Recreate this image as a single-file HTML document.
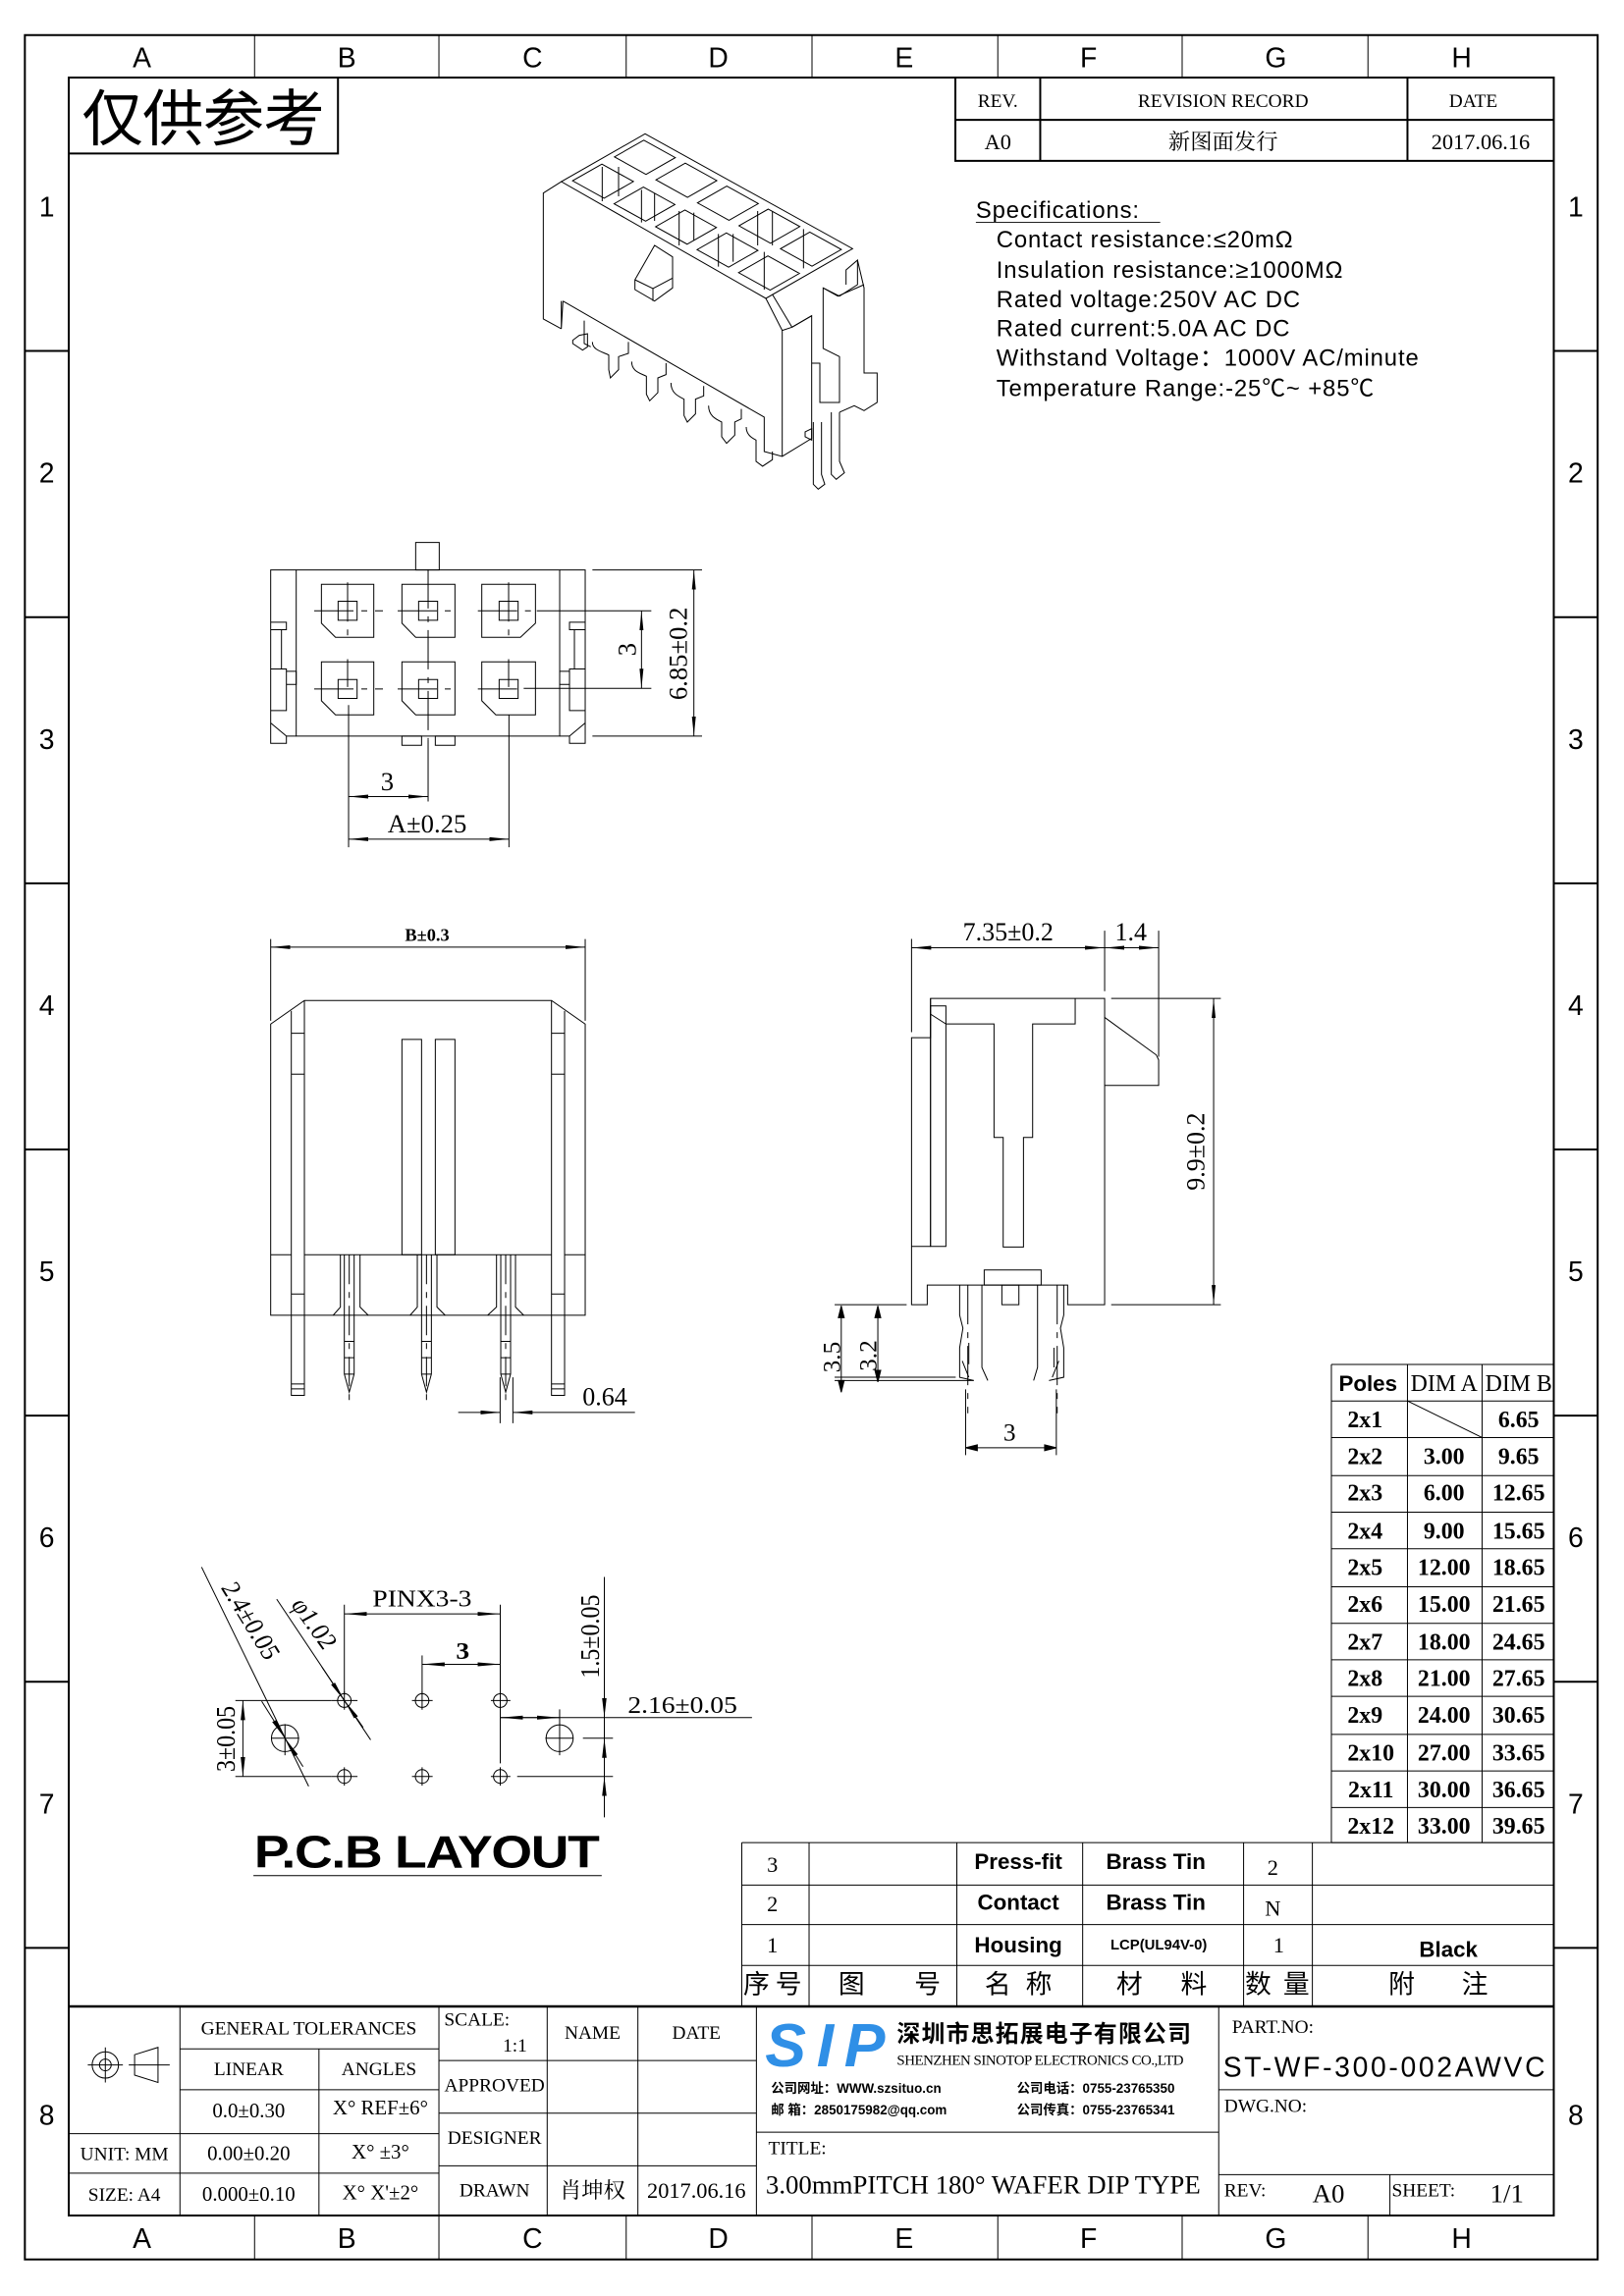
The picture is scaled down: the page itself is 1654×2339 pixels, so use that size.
<!DOCTYPE html>
<html><head><meta charset="utf-8">
<style>
html,body{margin:0;padding:0;background:#fff}
svg{display:block}
svg *{vector-effect:non-scaling-stroke}
.l{stroke:#000;stroke-width:1;fill:none}
.t{font-family:"Liberation Sans Narrow","Liberation Sans","Noto Sans CJK SC",sans-serif;fill:#000}
.s{font-family:"Liberation Serif","Noto Serif CJK SC",serif;fill:#000}
.c{font-family:"Liberation Sans","Noto Sans CJK SC",sans-serif;fill:#000}
</style></head><body>
<svg width="1654" height="2339" viewBox="0 0 1110 1570" preserveAspectRatio="none" xmlns="http://www.w3.org/2000/svg">
<defs>
<marker id="a" markerUnits="userSpaceOnUse" markerWidth="60" markerHeight="20" refX="60" refY="10" orient="auto-start-reverse" viewBox="0 0 60 20"><path d="M0,4 L60,10 L0,16z" fill="#000"/></marker>
</defs>
<rect width="1110" height="1570" fill="#fff"/>
<rect x="17" y="24" width="1075" height="1521" fill="none" stroke="#000" stroke-width="2"/>
<rect x="47" y="53" width="1015" height="1462" fill="none" stroke="#000" stroke-width="2"/>
<g class="l">
<path d="M174,24V53M300,24V53M428,24V53M555,24V53M682,24V53M808,24V53M935,24V53"/>
<path d="M174,1515V1545M300,1515V1545M428,1515V1545M555,1515V1545M682,1515V1545M808,1515V1545M935,1515V1545"/>
<path d="M17,240H47M17,422H47M17,604H47M17,786H47M17,968H47M17,1150H47M17,1332H47" stroke-width="2"/>
<path d="M1062,240H1092M1062,422H1092M1062,604H1092M1062,786H1092M1062,968H1092M1062,1150H1092M1062,1332H1092" stroke-width="2"/>
</g>
<g class="t" font-size="19" text-anchor="middle">
<text x="97" y="46">A</text><text x="237" y="46">B</text><text x="364" y="46">C</text><text x="491" y="46">D</text><text x="618" y="46">E</text><text x="744" y="46">F</text><text x="872" y="46">G</text><text x="999" y="46">H</text>
<text x="97" y="1537">A</text><text x="237" y="1537">B</text><text x="364" y="1537">C</text><text x="491" y="1537">D</text><text x="618" y="1537">E</text><text x="744" y="1537">F</text><text x="872" y="1537">G</text><text x="999" y="1537">H</text>
<text x="32" y="148">1</text><text x="32" y="330">2</text><text x="32" y="512">3</text><text x="32" y="694">4</text><text x="32" y="876">5</text><text x="32" y="1058">6</text><text x="32" y="1240">7</text><text x="32" y="1453">8</text>
<text x="1077" y="148">1</text><text x="1077" y="330">2</text><text x="1077" y="512">3</text><text x="1077" y="694">4</text><text x="1077" y="876">5</text><text x="1077" y="1058">6</text><text x="1077" y="1240">7</text><text x="1077" y="1453">8</text>
</g>
<path d="M47,105H231V53" stroke="#000" stroke-width="2" fill="none"/>
<text x="56" y="96" font-size="42" class="c" textLength="166">仅供参考</text>
<g>
<path d="M653,53V110H1062M653,82H1062M711,53V110M962,53V110" stroke="#000" stroke-width="2" fill="none"/>
<g class="s" font-size="13" text-anchor="middle">
<text x="682" y="73">REV.</text><text x="836" y="73">REVISION RECORD</text><text x="1007" y="73">DATE</text>
<text x="682" y="102" font-size="15">A0</text><text x="836" y="102" font-size="15">新图面发行</text><text x="1012" y="102" font-size="15">2017.06.16</text>
</g></g>
<g class="c" font-size="16" fill="#222" letter-spacing="0.6">
<text x="667" y="149">Specifications:</text>
<path d="M667,152H793" stroke="#222" stroke-width="1"/>
<text x="681" y="169">Contact  resistance:≤20mΩ</text>
<text x="681" y="190">Insulation  resistance:≥1000MΩ</text>
<text x="681" y="210">Rated  voltage:250V  AC  DC</text>
<text x="681" y="230">Rated  current:5.0A  AC  DC</text>
<text x="681" y="250">Withstand  Voltage：1000V  AC/minute</text>
<text x="681" y="271">Temperature  Range:-25℃~  +85℃</text>
</g>
<!-- iso view -->
<g transform="translate(362.4,100.7) scale(0.2237)" class="l">
<path d="M351,-41L985,310L720,462L95,105Z"/>
<path d="M95,105L40,140V525L95,555"/>
<g transform="matrix(126.8,70.2,-128,73,351,-41)">
<path d="M0.12,0.15h0.76v0.7h-0.76z M1.12,0.15h0.76v0.7h-0.76z M2.12,0.15h0.76v0.7h-0.76z M3.12,0.15h0.76v0.7h-0.76z M4.12,0.15h0.76v0.7h-0.76z M0.12,1.15h0.76v0.7h-0.76z M1.12,1.15h0.76v0.7h-0.76z M2.12,1.15h0.76v0.7h-0.76z M3.12,1.15h0.76v0.7h-0.76z M4.12,1.15h0.76v0.7h-0.76z"/>
</g>
<path d="M220,60V165M270,60V150M340,130V230M380,140V225M455,195V300M500,200V285M575,265V365M620,265V350M695,195V300M740,195V300M835,250V370M715,320V435"/>
<path d="M100,470L715,825V930L770,945L860,890V515L800,550L770,560V945"/>
<path d="M720,462L770,560M740,450L800,550M800,550L860,515"/>
<path d="M95,470V555L100,470"/>
<path d="M320,405L380,300L435,335V430L380,470L320,435Z M320,405L375,432L435,400M375,432V470"/>
<path d="M860,660H885V780L945,780V640L895,615V430L945,455L1000,420V345L965,375V420"/>
<path d="M1000,345L1020,430V690L1060,690V780L1020,805L990,790L945,810M895,430L940,455L1020,420"/>
<path d="M165,530V600L185,610M190,595C190,620 220,625 240,635V680L245,705L270,680V640L300,630V595M310,655C310,685 335,690 355,700V755L365,775L390,750V705L415,695V660M430,720C430,750 450,760 470,770V820L480,840L505,815V770L530,760V730M545,790C545,820 565,830 585,840V885L600,905L625,880V840L645,830V800M660,855C660,880 680,890 690,895V960L710,975L740,955V930"/>
<path d="M130,590L150,575L175,570V610L160,620L130,600Z"/>
<path d="M865,840V1030L880,1045L900,1030L890,1000V840M920,810V1000L935,1015L960,995L945,960V810M840,870L860,860V895L840,885Z"/>
</g>
<!-- top view -->
<g transform="translate(174.5,362.4) scale(0.2237)">
<g class="l">
<rect x="490" y="38" width="72" height="84"/>
<rect x="125" y="122" width="805" height="508"/>
<path d="M125,122H47V652H95V630H125M47,282H95V305H47M80,305V425M47,425H95V552H47M47,590L95,630M95,432H125V472H95Z"/>
<path d="M930,122H1008V652H960V630H930M1008,282H960V305H1008M975,305V425M1008,425H960V552H1008M1008,590L960,630M960,432H930V472H960Z"/>
<rect x="448" y="630" width="60" height="28"/><rect x="550" y="630" width="60" height="28"/>
<path d="M202,166H362V328H245L202,285Z M448,166H610V328H490L448,285Z M692,166H856V285L810,328H692Z"/>
<path d="M202,403H362V565H245L202,522Z M448,403H610V565H490L448,522Z M692,403H856V565H735L692,522Z"/>
<rect x="253" y="218" width="58" height="58"/><rect x="499" y="218" width="58" height="58"/><rect x="745" y="218" width="58" height="58"/>
<rect x="253" y="457" width="58" height="58"/><rect x="499" y="457" width="58" height="58"/><rect x="745" y="457" width="58" height="58"/>
</g>
<g class="l" stroke-dasharray="40,8,6,8">
<path d="M180,247H390M435,247H615M680,247H860M180,486H390M435,486H615M680,486H820M282,160V335M528,120V640M774,160V335M282,395V480M774,395V480"/>
</g>
<g class="l">
<path d="M860,247H1210M820,484H1210"/>
<path d="M1180,247V484" marker-start="url(#a)" marker-end="url(#a)"/>
<path d="M1030,122H1365M1030,630H1365"/>
<path d="M1340,122V630" marker-start="url(#a)" marker-end="url(#a)"/>
<path d="M285,535V970M528,640V830M775,565V970"/>
<path d="M285,815H528" marker-start="url(#a)" marker-end="url(#a)"/>
<path d="M285,945H775" marker-start="url(#a)" marker-end="url(#a)"/>
</g>
<g class="s" font-size="80" text-anchor="middle">
<text x="403" y="795">3</text>
<text x="525" y="925">A±0.25</text>
<text transform="translate(1162,365) rotate(-90)">3</text>
<text transform="translate(1318,378) rotate(-90)">6.85±0.2</text>
</g>
</g>
<!-- front view -->
<g transform="translate(174.5,624.2) scale(0.2237)">
<g class="l">
<path d="M47,80V330M1008,80V330"/>
<path d="M47,105H1008" marker-start="url(#a)" marker-end="url(#a)"/>
<path d="M47,340L150,268H905L1008,340V1230H47Z"/>
<path d="M110,300V1475H150V268M905,268V1475H945V300"/>
<path d="M110,368H150M110,493H150M110,1165H150M110,1440H150M110,1455H150M905,368H945M905,493H945M905,1165H945M905,1440H945M905,1455H945"/>
<path d="M47,1045H110M150,1045H905M945,1045H1008"/>
<rect x="448" y="387" width="60" height="658"/><rect x="550" y="387" width="60" height="658"/>
<path d="M260,1045V1205L238,1230M320,1045V1205L345,1230M272,1045V1410L287,1465L302,1410V1045M272,1310H302M272,1360H302M272,1410H302"/>
<path d="M495,1045V1205L473,1230M555,1045V1205L580,1230M508,1045V1410L523,1465L538,1410V1045M508,1310H538M508,1360H538M508,1410H538"/>
<path d="M737,1045V1205L710,1230M795,1045V1205L820,1230M750,1045V1410L765,1465L780,1410V1045M750,1310H780M750,1360H780M750,1410H780"/>
<path d="M748,1420V1560M787,1420V1560"/>
<path d="M620,1527H748" marker-end="url(#a)"/><path d="M1160,1527H787" marker-end="url(#a)"/>
</g>
<g class="l" stroke-dasharray="30,8,6,8"><path d="M287,1045V1505M523,1045V1505M765,1045V1505"/></g>
<g class="s" text-anchor="middle"><text x="525" y="85" font-size="55" font-weight="bold">B±0.3</text><text x="1068" y="1505" font-size="78">0.64</text></g>
</g>
<!-- side view -->
<g transform="translate(590.6,617.4) scale(0.2237)">
<g class="l">
<path d="M203,292H735V1228H622V1168H193V1228H145V412H203Z"/>
<path d="M145,1050H203M203,292V1050"/>
<rect x="203" y="315" width="47" height="735"/>
<path d="M203,340L250,370M250,370H397V717H425V1052H487V717H515V370H645V292"/>
<path d="M735,350L893,465L900,480V558H735"/>
<rect x="367" y="1122" width="174" height="46"/>
<rect x="421" y="1168" width="52" height="60"/>
<path d="M292,1168V1260L302,1300L292,1360V1450L335,1460M360,1168V1420L378,1460M530,1168V1420L518,1460M610,1168V1260L600,1300L610,1360V1450L565,1460"/>
<path d="M300,1400L320,1450M595,1400L575,1450M320,1345V1410M580,1360V1420"/>
<path d="M145,110V395M735,85V270M900,85V470"/>
<path d="M145,137H735" marker-start="url(#a)" marker-end="url(#a)"/>
<path d="M735,137H900" marker-start="url(#a)" marker-end="url(#a)"/>
<path d="M755,292H1090M755,1228H1090"/>
<path d="M1068,292V1228" marker-start="url(#a)" marker-end="url(#a)"/>
<path d="M-90,1228H130M-90,1460H335M-90,1450H280"/>
</g>
<g class="l" stroke-dasharray="40,8,6,8"><path d="M317,1168V1560M590,1168V1560"/></g>
<g class="s" font-size="78" text-anchor="middle">
<text x="440" y="115">7.35±0.2</text>
<text x="815" y="115">1.4</text>
<text transform="translate(1040,760) rotate(-90)">9.9±0.2</text>
</g>
</g>
<g class="l">
<path d="M575,893l-2,8h4z M575,952l-2,-8h4z M600,893l-2,8h4z M600,945l-2,-8h4z" fill="#000"/>
<path d="M575,893V952M600,893V945"/>
<path d="M660,950V995M722,950V995"/>
<path d="M660,990l8,-2v4z M722,990l-8,-2v4z" fill="#000"/>
<path d="M660,990H722"/>
</g>
<g class="s" font-size="17" text-anchor="middle">
<text transform="translate(574,928) rotate(-90)">3.5</text>
<text transform="translate(599,927) rotate(-90)">3.2</text>
<text x="690" y="985">3</text>
</g>
<!-- PCB layout -->
<g transform="translate(127.5,1060.4) scale(0.2568,0.2237)">
<g class="l">
<ellipse cx="420" cy="458" rx="18" ry="21"/><ellipse cx="627" cy="458" rx="18" ry="21"/><ellipse cx="835" cy="458" rx="18" ry="21"/>
<ellipse cx="420" cy="690" rx="18" ry="21"/><ellipse cx="627" cy="690" rx="18" ry="21"/><ellipse cx="835" cy="690" rx="18" ry="21"/>
<path d="M385,458H455M420,430V486M600,458H655M627,430V486M810,458H862M835,430V486M385,690H455M420,662V718M600,690H655M627,662V718M810,690H862M835,662V718"/>
<ellipse cx="262" cy="573" rx="36" ry="41"/><ellipse cx="993" cy="573" rx="36" ry="41"/>
<path d="M225,573H300M262,530V625M955,573H1030M993,485V625"/>
<path d="M420,165V440M835,165V650"/>
<path d="M420,193H835" marker-start="url(#a)" marker-end="url(#a)"/>
<path d="M627,320V440"/>
<path d="M627,347H835" marker-start="url(#a)" marker-end="url(#a)"/>
<path d="M130,458H385M130,690H385"/>
<path d="M150,458V690" marker-start="url(#a)" marker-end="url(#a)"/>
<path d="M1112,80V815M835,510H1505M1055,573H1135M880,690H1135"/>
<path d="M835,510H993" marker-start="url(#a)" marker-end="url(#a)"/>
<path d="M1112,450V510" marker-end="url(#a)"/><path d="M1112,630V573" marker-end="url(#a)"/><path d="M1112,760V690" marker-end="url(#a)"/>
<path d="M40,50L325,720"/><path d="M200,460L262,573" marker-end="url(#a)"/><path d="M310,660L262,573" marker-end="url(#a)"/>
<path d="M240,148L490,578"/><path d="M360,355L420,458" marker-end="url(#a)"/><path d="M470,540L420,458" marker-end="url(#a)"/>
<path d="M178,993H1105"/>
</g>
<g class="s" font-size="72" text-anchor="middle">
<text x="627" y="170">PINX3-3</text>
<text x="735" y="330" font-weight="bold">3</text>
<text x="1320" y="495">2.16±0.05</text>
<text transform="translate(1098,262) rotate(-90)">1.5±0.05</text>
<text transform="translate(128,575) rotate(-90)">3±0.05</text>
<text transform="translate(150,225) rotate(62)">2.4±0.05</text>
<text transform="translate(320,235) rotate(58)">φ1.02</text>
</g>
<text x="640" y="968" class="t" font-size="140" font-weight="bold" text-anchor="middle" textLength="920">P.C.B LAYOUT</text>
</g>
<!-- poles table -->
<g class="l">
<path d="M910,933H1062M910,958H1062M910,983H1062M910,1009H1062M910,1034H1062M910,1059H1062M910,1085H1062M910,1110H1062M910,1135H1062M910,1160H1062M910,1186H1062M910,1211H1062M910,1236H1062M910,1260H1062"/>
<path d="M910,933V1260M962,933V1260M1013,933V1260M962,958L1013,983"/>
</g>
<g class="s" font-size="16" text-anchor="middle" font-weight="bold">
<text x="935" y="951" class="c" font-size="15">Poles</text><text x="987" y="951" font-weight="normal">DIM A</text><text x="1038" y="951" font-weight="normal">DIM B</text>
<text x="933" y="976">2x1</text><text x="1038" y="976">6.65</text>
<text x="933" y="1001">2x2</text><text x="987" y="1001">3.00</text><text x="1038" y="1001">9.65</text>
<text x="933" y="1026">2x3</text><text x="987" y="1026">6.00</text><text x="1038" y="1026">12.65</text>
<text x="933" y="1052">2x4</text><text x="987" y="1052">9.00</text><text x="1038" y="1052">15.65</text>
<text x="933" y="1077">2x5</text><text x="987" y="1077">12.00</text><text x="1038" y="1077">18.65</text>
<text x="933" y="1102">2x6</text><text x="987" y="1102">15.00</text><text x="1038" y="1102">21.65</text>
<text x="933" y="1128">2x7</text><text x="987" y="1128">18.00</text><text x="1038" y="1128">24.65</text>
<text x="933" y="1153">2x8</text><text x="987" y="1153">21.00</text><text x="1038" y="1153">27.65</text>
<text x="933" y="1178">2x9</text><text x="987" y="1178">24.00</text><text x="1038" y="1178">30.65</text>
<text x="937" y="1204">2x10</text><text x="987" y="1204">27.00</text><text x="1038" y="1204">33.65</text>
<text x="937" y="1229">2x11</text><text x="987" y="1229">30.00</text><text x="1038" y="1229">36.65</text>
<text x="937" y="1254">2x12</text><text x="987" y="1254">33.00</text><text x="1038" y="1254">39.65</text>
</g>
<!-- BOM -->
<g class="l">
<path d="M507,1260H1062M507,1289H1062M507,1316H1062M507,1344H1062"/>
<path d="M507,1260V1372M553,1260V1372M654,1260V1372M740,1260V1372M850,1260V1372M897,1260V1372"/>
</g>
<g class="s" font-size="15" text-anchor="middle">
<text x="528" y="1280">3</text><text x="528" y="1307">2</text><text x="528" y="1335">1</text>
<text x="696" y="1278" class="t" font-weight="bold" font-size="15">Press-fit</text><text x="790" y="1278" class="t" font-weight="bold" font-size="15">Brass Tin</text>
<text x="696" y="1306" class="t" font-weight="bold" font-size="15">Contact</text><text x="790" y="1306" class="t" font-weight="bold" font-size="15">Brass Tin</text>
<text x="696" y="1335" class="t" font-weight="bold" font-size="15">Housing</text><text x="792" y="1333" class="t" font-weight="bold" font-size="10">LCP(UL94V-0)</text>
<text x="870" y="1282">2</text><text x="870" y="1310">N</text><text x="874" y="1335">1</text>
<text x="990" y="1338" class="t" font-weight="bold" font-size="15">Black</text>
</g>
<g class="c" font-size="18" text-anchor="middle">
<text x="528" y="1363" textLength="40">序号</text><text x="582" y="1363">图</text><text x="634" y="1363">号</text>
<text x="696" y="1363" textLength="46">名 称</text><text x="772" y="1363">材</text><text x="816" y="1363">料</text>
<text x="873" y="1363" textLength="44">数 量</text><text x="958" y="1363">附</text><text x="1008" y="1363">注</text>
</g>
<!-- title block -->
<path d="M47,1372H1062" stroke="#000" stroke-width="2.5"/>
<g class="l" stroke-width="1.5">
<path d="M123,1372V1515M300,1372V1515M374,1372V1515M436,1372V1515M517,1372V1515"/>
<path d="M218,1401V1515M123,1401H300M123,1429H300M47,1459H300M47,1486H300"/>
<path d="M300,1409H517M300,1445H517M300,1481H517"/>
<path d="M517,1458H833M833,1372V1515M833,1429H1062M833,1487H1062M950,1487V1515"/>
</g>
<g class="s" font-size="13" text-anchor="middle">
<text x="211" y="1391">GENERAL TOLERANCES</text>
<text x="170" y="1419">LINEAR</text><text x="259" y="1419">ANGLES</text>
<text x="170" y="1448" font-size="14">0.0±0.30</text><text x="260" y="1446" font-size="14">X° REF±6°</text>
<text x="85" y="1477">UNIT: MM</text><text x="170" y="1477" font-size="14">0.00±0.20</text><text x="260" y="1476" font-size="14">X° ±3°</text>
<text x="85" y="1505">SIZE: A4</text><text x="170" y="1505" font-size="14">0.000±0.10</text><text x="260" y="1504" font-size="14">X° X'±2°</text>
<text x="326" y="1385">SCALE:</text><text x="352" y="1403">1:1</text>
<text x="405" y="1394">NAME</text><text x="476" y="1394">DATE</text>
<text x="338" y="1430">APPROVED</text><text x="338" y="1466">DESIGNER</text><text x="338" y="1502">DRAWN</text>
<text x="405" y="1503" font-size="15">肖坤权</text><text x="476" y="1503" font-size="15">2017.06.16</text>
<text x="545" y="1473">TITLE:</text>
<text x="672" y="1500" font-size="18">3.00mmPITCH 180° WAFER DIP TYPE</text>
<text x="870" y="1390">PART.NO:</text>
<text x="865" y="1444">DWG.NO:</text>
<text x="851" y="1502">REV:</text><text x="908" y="1506" font-size="18">A0</text>
<text x="973" y="1502">SHEET:</text><text x="1030" y="1506" font-size="18">1/1</text>
</g>
<text x="946" y="1420" class="c" font-size="19" text-anchor="middle" textLength="220">ST-WF-300-002AWVC</text>
<g class="l"><circle cx="72" cy="1412" r="9"/><circle cx="72" cy="1412" r="4"/><path d="M60,1412H84M72,1400V1424M92,1405L108,1400V1424L92,1419Z M88,1412H116"/></g>
<text x="523" y="1413" font-family="Liberation Sans,sans-serif" font-weight="bold" font-style="italic" font-size="42" fill="#2f8fe6" textLength="82">SIP</text>
<text x="613" y="1396" class="c" font-size="16" font-weight="bold" textLength="201">深圳市思拓展电子有限公司</text>
<text x="613" y="1412" class="s" font-size="10" textLength="196">SHENZHEN SINOTOP ELECTRONICS CO.,LTD</text>
<g class="c" font-size="9" font-weight="bold">
<text x="527" y="1431">公司网址：WWW.szsituo.cn</text>
<text x="527" y="1446">邮    箱：2850175982@qq.com</text>
<text x="695" y="1431">公司电话：0755-23765350</text>
<text x="695" y="1446">公司传真：0755-23765341</text>
</g>
</svg>
</body></html>
